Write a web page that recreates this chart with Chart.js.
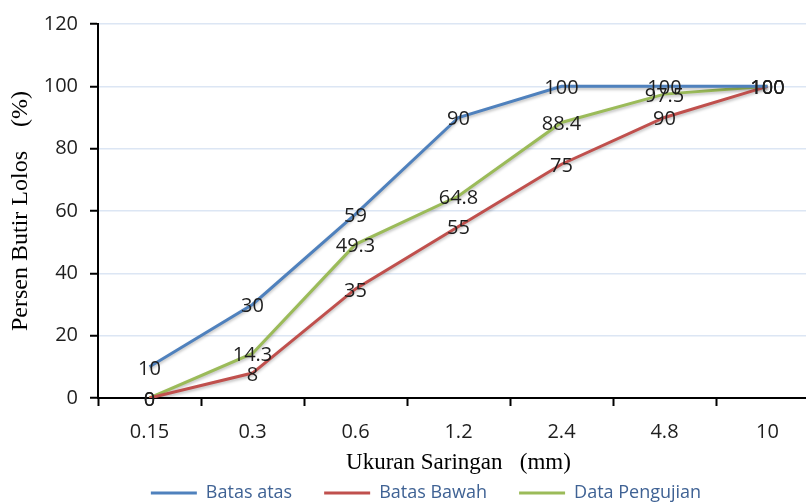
<!DOCTYPE html>
<html>
<head>
<meta charset="utf-8">
<script src="https://cdn.jsdelivr.net/npm/chart.js@4"></script>
<style>
  html, body { margin: 0; padding: 0; background: #fff; overflow: hidden; }
  #wrap { width: 806px; height: 503px; overflow: hidden; position: relative; }
  #box { position: absolute; left: 0; top: 0; width: 852px; height: 512px; }
</style>
</head>
<body>
<div id="wrap"><div id="box"><canvas id="gradChart"></canvas></div></div>
<script>
// sieve sizes and passing percentages
var sieveSizes = ['0.15', '0.3', '0.6', '1.2', '2.4', '4.8', '10'];
var batasAtas = [10, 30, 59, 90, 100, 100, 100];
var batasBawah = [0, 8, 35, 55, 75, 90, 100];
var dataPengujian = [0, 14.3, 49.3, 64.8, 88.4, 97.5, 100];
var yTicks = [0, 20, 40, 60, 80, 100, 120];

// draws the value next to every point
var pointLabels = {
  id: 'pointLabels',
  afterDatasetsDraw: function(chart) {
    var ctx = chart.ctx;
    ctx.save();
    ctx.font = '20px "Open Sans"';
    ctx.fillStyle = '#1e1e1e';
    ctx.textAlign = 'center';
    ctx.textBaseline = 'middle';
    chart.data.datasets.forEach(function(ds, i) {
      var meta = chart.getDatasetMeta(i);
      meta.data.forEach(function(pt, j) {
        ctx.fillText(String(ds.data[j]), pt.x, pt.y + 2);
      });
    });
    ctx.restore();
  }
};

// soft shadow under the lines
var lineShadow = {
  id: 'lineShadow',
  beforeDatasetDraw: function(chart) {
    var ctx = chart.ctx;
    ctx.save();
    ctx.shadowColor = 'rgba(0,0,0,0.25)';
    ctx.shadowBlur = 3;
    ctx.shadowOffsetY = 2;
  },
  afterDatasetDraw: function(chart) {
    chart.ctx.restore();
  }
};

var ctx = document.getElementById('gradChart').getContext('2d');
new Chart(ctx, {
  type: 'line',
  data: {
    labels: sieveSizes,
    datasets: [
      {
        label: 'Batas atas',
        data: batasAtas,
        borderColor: '#4F81BD',
        backgroundColor: '#4F81BD',
        borderWidth: 3,
        pointRadius: 0,
        tension: 0
      },
      {
        label: 'Batas Bawah',
        data: batasBawah,
        borderColor: '#C0504D',
        backgroundColor: '#C0504D',
        borderWidth: 3,
        pointRadius: 0,
        tension: 0
      },
      {
        label: 'Data Pengujian',
        data: dataPengujian,
        borderColor: '#9BBB59',
        backgroundColor: '#9BBB59',
        borderWidth: 3,
        pointRadius: 0,
        tension: 0
      }
    ]
  },
  options: {
    responsive: true,
    maintainAspectRatio: false,
    animation: false,
    layout: { padding: { top: 24, left: 0, right: 0, bottom: 0 } },
    plugins: {
      legend: {
        position: 'bottom',
        labels: {
          usePointStyle: true,
          pointStyle: 'line',
          pointStyleWidth: 46,
          boxHeight: 18,
          padding: 32,
          color: '#3F6294',
          font: { family: '"Open Sans"', size: 18 }
        }
      },
      tooltip: { enabled: false }
    },
    scales: {
      x: {
        offset: true,
        grid: {
          offset: true,
          drawOnChartArea: false,
          drawTicks: true,
          tickLength: 8,
          tickColor: '#000',
          tickWidth: 2
        },
        border: { color: '#000', width: 2 },
        ticks: {
          color: '#1e1e1e',
          padding: 14,
          maxRotation: 0,
          font: { family: '"Open Sans"', size: 20 }
        },
        title: {
          display: true,
          text: 'Ukuran Saringan   (mm)',
          color: '#000',
          padding: { top: 0, bottom: -24.8 },
          font: { family: '"Liberation Serif"', size: 23 }
        },
        afterFit: function(scale) { scale.height = 54; }
      },
      y: {
        min: 0,
        max: 120,
        afterBuildTicks: function(scale) {
          scale.ticks = yTicks.map(function(v) { return { value: v }; });
        },
        grid: {
          color: '#DCE6F4',
          lineWidth: 1.5,
          drawTicks: true,
          tickLength: 8,
          tickColor: '#000',
          tickWidth: 2
        },
        border: { color: '#000', width: 2 },
        ticks: {
          color: '#1e1e1e',
          padding: 12,
          font: { family: '"Open Sans"', size: 20 }
        },
        title: {
          display: true,
          text: 'Persen Butir Lolos    (%)',
          color: '#000',
          padding: { top: 6.6, bottom: 0 },
          font: { family: '"Liberation Serif"', size: 24 }
        },
        afterFit: function(scale) { scale.width = 98; }
      },
      spacer: {
        type: 'linear',
        position: 'right',
        grid: { display: false, drawTicks: false },
        border: { display: false },
        ticks: { display: false },
        afterFit: function(scale) { scale.width = 33; }
      }
    }
  },
  plugins: [lineShadow, pointLabels]
});
</script>
</body>
</html>
